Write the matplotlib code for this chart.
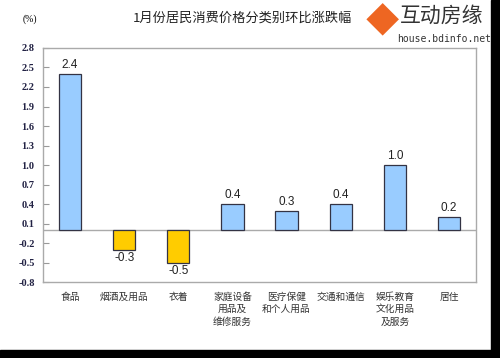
import matplotlib
matplotlib.use('Agg')
import matplotlib.pyplot as plt
import numpy as np

plt.rcParams['font.family'] = ['Noto Sans CJK SC', 'DejaVu Sans']

# data
categories = ['食品', '烟酒及用品', '衣着', '家庭设备\n用品及\n维修服务', '医疗保健\n和个人用品',
              '交通和通信', '娱乐教育\n文化用品\n及服务', '居住']
values = [2.4, -0.3, -0.5, 0.4, 0.3, 0.4, 1.0, 0.2]
yticks = [2.8, 2.5, 2.2, 1.9, 1.6, 1.3, 1.0, 0.7, 0.4, 0.1, -0.2, -0.5, -0.8]

fig = plt.figure(figsize=(5, 3.58), dpi=100)
fig.patch.set_facecolor('white')
ax = fig.add_axes([0.086, 0.212, 0.866, 0.654])

x = np.arange(len(categories))
colors = ['#99CCFF' if v >= 0 else '#FFCC00' for v in values]
ax.bar(x, values, width=0.41, color=colors, edgecolor='#333344', linewidth=0.9, zorder=3)
ax.axhline(0, color='#aaaaaa', linewidth=1, zorder=2)

for xi, v in zip(x, values):
    off = 0.04 if v >= 0 else -0.04
    ax.text(xi, v + off, f'{v:.1f}', ha='center', va='bottom' if v >= 0 else 'top',
            fontsize=8.5, family='Liberation Sans', color='#222222')

ax.set_xlim(-0.5, 7.5)
ax.set_ylim(-0.8, 2.8)
ax.set_yticks(yticks)
ax.set_yticklabels([f'{t:.1f}' for t in yticks], family='Liberation Serif', fontsize=7.5,
                   color='#222244', fontweight='bold')
ax.tick_params(axis='y', direction='in', length=4, color='#999999', pad=6)
ax.set_xticks(x)
ax.set_xticklabels(categories, fontsize=7, linespacing=1.3, color='#333333')
ax.tick_params(axis='x', length=0, pad=7)
for s in ax.spines.values():
    s.set_color('#aaaaaa')
    s.set_linewidth(1)

fig.text(0.06, 0.945, '(%)', fontsize=7, family='Liberation Serif', ha='center', va='center')
fig.text(0.485, 0.95, '1月份居民消费价格分类别环比涨跌幅', fontsize=9.5, ha='center', va='center',
         color='#222222')

# watermark
fig.text(0.765, 0.935, '◆', fontsize=24, ha='center', va='center', color='#ee6622')
fig.text(0.80, 0.955, '互动房缘', fontsize=15, ha='left', va='center', color='#333333')
fig.text(0.795, 0.89, 'house.bdinfo.net', fontsize=7, family='DejaVu Sans Mono',
         ha='left', va='center', color='#333333')

# black strips on the right and bottom
fig.add_artist(plt.Rectangle((0.982, 0), 0.02, 1, transform=fig.transFigure, color='black'))
fig.add_artist(plt.Rectangle((0, 0), 1, 0.022, transform=fig.transFigure, color='black'))

fig.savefig('out.png', dpi=100)
